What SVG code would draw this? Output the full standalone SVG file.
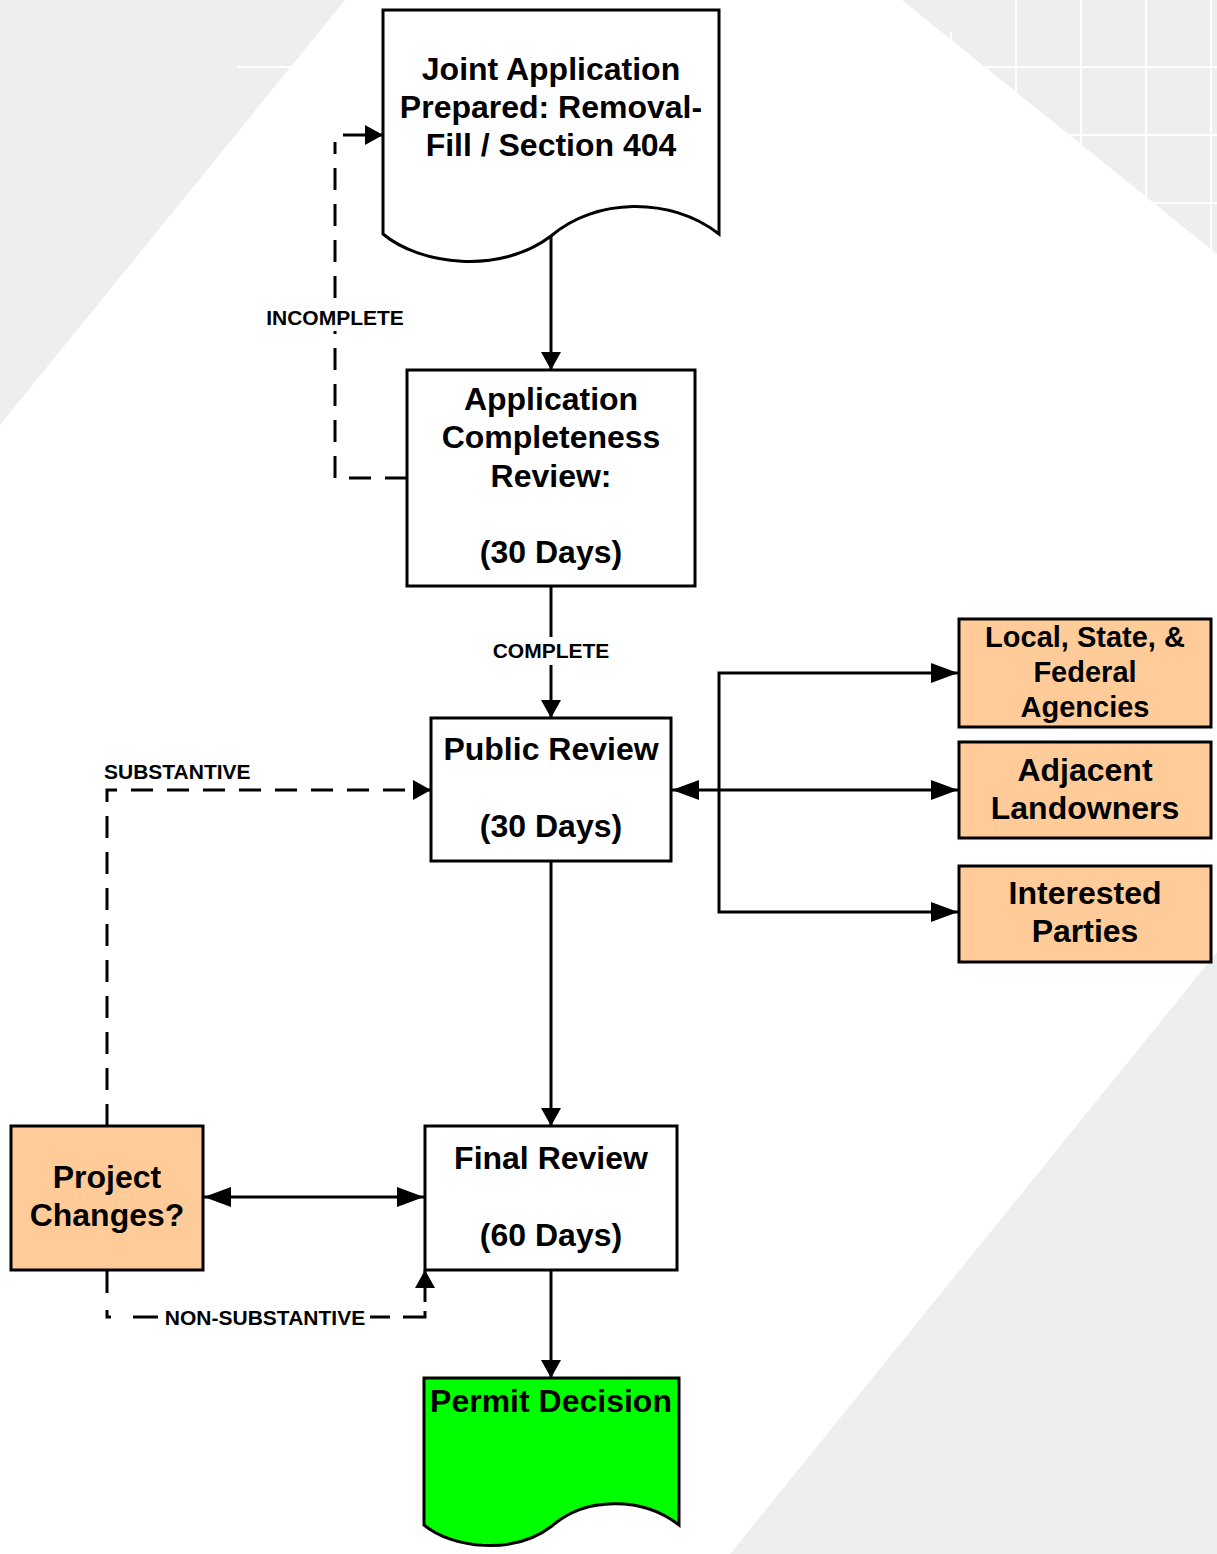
<svg xmlns="http://www.w3.org/2000/svg" width="1217" height="1554" viewBox="0 0 1217 1554">
<style>
.t{font-family:"Liberation Sans",Arial,sans-serif;font-weight:bold;fill:#000;text-anchor:middle}
.m{font-size:32px}
.s{font-size:29px}
.l{font-size:21px}
.box{stroke:#000;stroke-width:3;stroke-linejoin:miter}
.w{fill:#fff}
.o{fill:#ffcc99}
.g{fill:#00ff00}
.c{fill:none;stroke:#000;stroke-width:3}
.d{stroke-dasharray:22 14}
.grid{stroke:#fff;stroke-width:2}
</style>
<defs>
<marker id="a" markerUnits="userSpaceOnUse" markerWidth="20" markerHeight="22" refX="18" refY="10" orient="auto" overflow="visible">
<path d="M0,0 L18,10 L0,20 z" fill="#000"/>
</marker>
<marker id="b" markerUnits="userSpaceOnUse" markerWidth="30" markerHeight="22" refX="27" refY="10" orient="auto-start-reverse" overflow="visible">
<path d="M0,0 L27,10 L0,20 z" fill="#000"/>
</marker>
<clipPath id="cl"><polygon points="0,0 345,0 0,425"/></clipPath>
<clipPath id="cr"><polygon points="902,0 1217,0 1217,254"/></clipPath>
</defs>
<g id="background">
<rect x="0" y="0" width="1217" height="1554" fill="#fff"/>
<polygon points="0,0 345,0 0,425" fill="#eeeeee"/>
<polygon points="902,0 1217,0 1217,254" fill="#eeeeee"/>
<polygon points="1217,952 1217,1554 730,1554" fill="#eeeeee"/>
<g clip-path="url(#cl)"><line class="grid" x1="237" y1="67" x2="345" y2="67"/></g>
<g clip-path="url(#cr)">
<line class="grid" x1="951" y1="32" x2="951" y2="60"/>
<line class="grid" x1="1016" y1="0" x2="1016" y2="254"/>
<line class="grid" x1="1081" y1="0" x2="1081" y2="254"/>
<line class="grid" x1="1146" y1="0" x2="1146" y2="254"/>
<line class="grid" x1="1211" y1="0" x2="1211" y2="254"/>
<line class="grid" x1="902" y1="67" x2="1217" y2="67"/>
<line class="grid" x1="902" y1="135" x2="1217" y2="135"/>
<line class="grid" x1="902" y1="203" x2="1217" y2="203"/>
</g>
</g>
<g id="connectors">
<line class="c" x1="551" y1="236" x2="551" y2="370" marker-end="url(#a)"/>
<line class="c" x1="551" y1="586" x2="551" y2="718" marker-end="url(#a)"/>
<rect x="489" y="637" width="124" height="28" fill="#fff"/>
<text class="t l" x="551" y="658">COMPLETE</text>
<path class="c d" d="M407,478 H335 V142"/>
<line class="c" x1="343" y1="135" x2="383" y2="135" marker-end="url(#a)"/>
<rect x="263" y="305" width="143" height="26" fill="#fff"/>
<text class="t l" x="335" y="325">INCOMPLETE</text>
<line class="c" x1="672" y1="790" x2="958" y2="790" marker-start="url(#b)" marker-end="url(#b)"/>
<path class="c" d="M958,673 H719 V912 H958" marker-start="url(#b)" marker-end="url(#b)"/>
<line class="c" x1="551" y1="861" x2="551" y2="1126" marker-end="url(#a)"/>
<line class="c" x1="551" y1="1270" x2="551" y2="1378" marker-end="url(#a)"/>
<line class="c" x1="204" y1="1197" x2="424" y2="1197" marker-start="url(#b)" marker-end="url(#b)"/>
<path class="c d" d="M107,1126 V790 H431" marker-end="url(#a)"/>
<text class="t l" x="104" y="779" style="text-anchor:start">SUBSTANTIVE</text>
<path class="c" d="M107,1270 V1293 M107,1310 V1317 H111 M133,1317 H158 M370,1317 H390 M403,1317 H425 V1311"/>
<line class="c" x1="425" y1="1302" x2="425" y2="1270" marker-end="url(#a)"/>
<text class="t l" x="265" y="1325">NON-SUBSTANTIVE</text>
</g>
<g id="joint-application">
<path class="box w" d="M383,10 H719 V234 C670,196 595,198 551,236 C500,275 420,265 383,234 Z"/>
<text class="t m" x="551" y="80">Joint Application</text>
<text class="t m" x="551" y="118">Prepared: Removal-</text>
<text class="t m" x="551" y="156">Fill / Section 404</text>
</g>
<g id="completeness-review">
<rect class="box w" x="407" y="370" width="288" height="216"/>
<text class="t m" x="551" y="410">Application</text>
<text class="t m" x="551" y="448">Completeness</text>
<text class="t m" x="551" y="487">Review:</text>
<text class="t m" x="551" y="563">(30 Days)</text>
</g>
<g id="public-review">
<rect class="box w" x="431" y="718" width="240" height="143"/>
<text class="t m" x="551" y="760">Public Review</text>
<text class="t m" x="551" y="837">(30 Days)</text>
</g>
<g id="agencies">
<rect class="box o" x="959" y="619" width="252" height="108"/>
<text class="t s" x="1085" y="647">Local, State, &amp;</text>
<text class="t s" x="1085" y="682">Federal</text>
<text class="t s" x="1085" y="717">Agencies</text>
</g>
<g id="landowners">
<rect class="box o" x="959" y="742" width="252" height="96"/>
<text class="t m" x="1085" y="781">Adjacent</text>
<text class="t m" x="1085" y="819">Landowners</text>
</g>
<g id="interested-parties">
<rect class="box o" x="959" y="866" width="252" height="96"/>
<text class="t m" x="1085" y="904">Interested</text>
<text class="t m" x="1085" y="942">Parties</text>
</g>
<g id="final-review">
<rect class="box w" x="425" y="1126" width="252" height="144"/>
<text class="t m" x="551" y="1169">Final Review</text>
<text class="t m" x="551" y="1246">(60 Days)</text>
</g>
<g id="project-changes">
<rect class="box o" x="11" y="1126" width="192" height="144"/>
<text class="t m" x="107" y="1188">Project</text>
<text class="t m" x="107" y="1226">Changes?</text>
</g>
<g id="permit-decision">
<path class="box g" d="M424,1378 H679 V1525 C642,1496 585,1497 552,1526 C513,1556 452,1548 424,1525 Z"/>
<text class="t m" x="551" y="1412">Permit Decision</text>
</g>
</svg>
